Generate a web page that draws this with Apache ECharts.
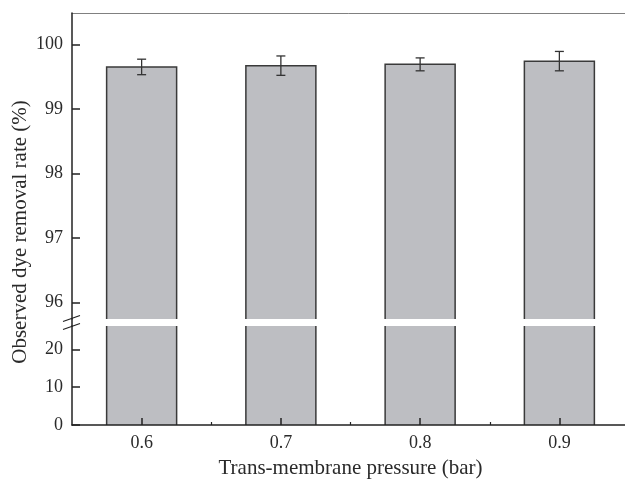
<!DOCTYPE html>
<html>
<head>
<meta charset="utf-8">
<script src="https://cdn.jsdelivr.net/npm/echarts@6/dist/echarts.min.js"></script>
<style>
  html, body { margin: 0; padding: 0; background: #fff; }
  #chart { width: 625px; height: 479px; }
</style>
</head>
<body>
<div id="chart"></div>
<script>
// Trans-membrane pressure (bar) and observed dye removal (%)
const pressures = [0.6, 0.7, 0.8, 0.9];
const removalRate = [99.65, 99.67, 99.69, 99.74];
const removalErr = [0.12, 0.15, 0.10, 0.15];

const xTickLabels = [0.6, 0.7, 0.8, 0.9];
const xMinorTicks = [0.65, 0.75, 0.85];
const yUpperTicks = [96, 97, 98, 99, 100];
const yLowerTicks = [0, 10, 20];

const FONT = 'Liberation Serif';
const TEXT = '#2a2a2a';
const AXIS = '#222';
const BAR_FILL = '#bdbec2';
const BAR_EDGE = '#3a3a3a';
const BAR_PX = 70;

const barData = pressures.map((p, i) => [p, removalRate[i]]);
const errData = pressures.map((p, i) => [p, removalRate[i] - removalErr[i], removalRate[i] + removalErr[i]]);

// Bar drawn as a filled rect plus an open outline (sides and top),
// so the axis break leaves a clean white gap.
function renderBar(params, api) {
  const top = api.coord([api.value(0), api.value(1)]);
  const base = api.coord([api.value(0), 0]);
  const x0 = top[0] - BAR_PX / 2, x1 = top[0] + BAR_PX / 2;
  return {
    type: 'group',
    children: [
      { type: 'rect', shape: { x: x0, y: top[1], width: BAR_PX, height: base[1] - top[1] },
        style: { fill: BAR_FILL } },
      { type: 'polyline', shape: { points: [[x0, base[1]], [x0, top[1]], [x1, top[1]], [x1, base[1]]] },
        style: { stroke: BAR_EDGE, lineWidth: 1.5, fill: null } }
    ]
  };
}

function renderErr(params, api) {
  const lo = api.coord([api.value(0), api.value(1)]);
  const hi = api.coord([api.value(0), api.value(2)]);
  const c = 4.5;
  const st = { stroke: '#333', lineWidth: 1.3 };
  return {
    type: 'group',
    children: [
      { type: 'line', shape: { x1: lo[0], y1: lo[1], x2: hi[0], y2: hi[1] }, style: st },
      { type: 'line', shape: { x1: hi[0] - c, y1: hi[1], x2: hi[0] + c, y2: hi[1] }, style: st },
      { type: 'line', shape: { x1: lo[0] - c, y1: lo[1], x2: lo[0] + c, y2: lo[1] }, style: st }
    ]
  };
}

const labelStyle = { fontFamily: FONT, fontSize: 18, color: TEXT };

const chart = echarts.init(document.getElementById('chart'), null, { renderer: 'canvas' });
chart.setOption({
  animation: false,
  backgroundColor: '#fff',
  grid: [
    { left: 72, width: 557, top: 13, height: 306, outerBoundsMode: 'none' },
    { left: 72, width: 557, top: 326, height: 99, outerBoundsMode: 'none' }
  ],
  xAxis: [
    // upper panel: only the top frame line
    { type: 'value', gridIndex: 0, min: 0.55, max: 0.95, position: 'top',
      axisLine: { show: true, lineStyle: { color: '#808080', width: 1 } },
      axisTick: { show: false }, axisLabel: { show: false }, splitLine: { show: false } },
    // lower panel: main x axis
    { type: 'value', gridIndex: 1, min: 0.55, max: 0.95, position: 'bottom', z: 5,
      name: 'Trans-membrane pressure (bar)', nameLocation: 'middle', nameGap: 33,
      nameTextStyle: { fontFamily: FONT, fontSize: 21, color: TEXT },
      axisLine: { show: true, lineStyle: { color: AXIS, width: 1.5 } },
      axisTick: { show: true, inside: true, length: 7, customValues: xTickLabels,
        lineStyle: { color: AXIS, width: 1.5 } },
      axisLabel: Object.assign({ margin: 9, customValues: xTickLabels,
        formatter: v => v.toFixed(1) }, labelStyle),
      splitLine: { show: false } },
    // lower panel: minor ticks
    { type: 'value', gridIndex: 1, min: 0.55, max: 0.95, position: 'bottom', offset: 0, z: 5,
      axisLine: { show: false },
      axisTick: { show: true, inside: true, length: 3, customValues: xMinorTicks,
        lineStyle: { color: AXIS, width: 1.2 } },
      axisLabel: { show: false }, splitLine: { show: false } }
  ],
  yAxis: [
    { type: 'value', gridIndex: 0, min: 95.748, max: 100.485, z: 5,
      axisLine: { show: true, lineStyle: { color: AXIS, width: 1.5 } },
      axisTick: { show: true, inside: true, length: 8, customValues: yUpperTicks,
        lineStyle: { color: AXIS, width: 1.5 } },
      axisLabel: Object.assign({ margin: 9, customValues: yUpperTicks }, labelStyle),
      splitLine: { show: false } },
    { type: 'value', gridIndex: 1, min: 0, max: 26.16, z: 5,
      axisLine: { show: true, lineStyle: { color: AXIS, width: 1.5 } },
      axisTick: { show: true, inside: true, length: 8, customValues: yLowerTicks,
        lineStyle: { color: AXIS, width: 1.5 } },
      axisLabel: Object.assign({ margin: 9, customValues: yLowerTicks }, labelStyle),
      splitLine: { show: false } }
  ],
  series: [
    { type: 'custom', xAxisIndex: 0, yAxisIndex: 0, clip: true, renderItem: renderBar, data: barData, z: 2 },
    { type: 'custom', xAxisIndex: 1, yAxisIndex: 1, clip: true, renderItem: renderBar, data: barData, z: 2 },
    { type: 'custom', xAxisIndex: 0, yAxisIndex: 0, clip: false, renderItem: renderErr, data: errData, z: 3 }
  ],
  graphic: [
    // y axis line through the break
    { type: 'line', shape: { x1: 72, y1: 318, x2: 72, y2: 327 }, style: { stroke: AXIS, lineWidth: 1.5 }, z: 10 },
    // break marks
    { type: 'line', shape: { x1: 63, y1: 321.5, x2: 80, y2: 315.5 }, style: { stroke: AXIS, lineWidth: 1.3 }, z: 10 },
    { type: 'line', shape: { x1: 63, y1: 329.5, x2: 80, y2: 323.5 }, style: { stroke: AXIS, lineWidth: 1.3 }, z: 10 },
    // y axis title
    { type: 'text', x: 20, y: 232, rotation: Math.PI / 2,
      style: { text: 'Observed dye removal rate (%)', fontFamily: FONT, fontSize: 21, fill: TEXT,
        align: 'center', verticalAlign: 'middle' } }
  ]
});
</script>
</body>
</html>
